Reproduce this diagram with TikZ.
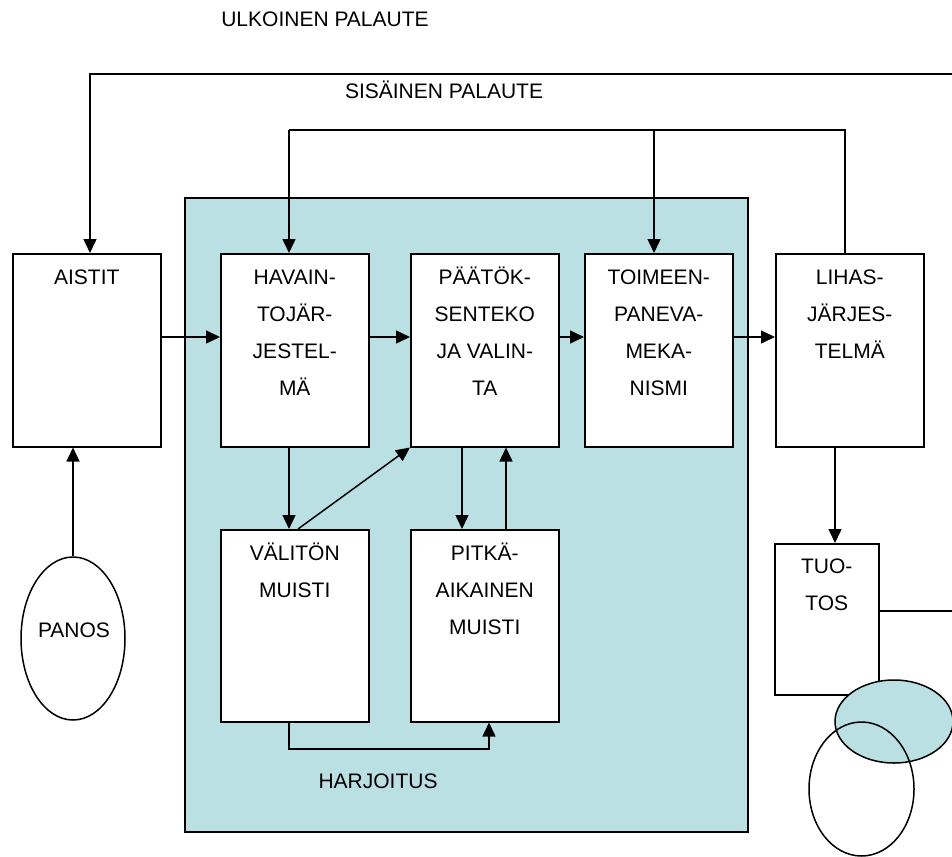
\documentclass[tikz,border=0pt]{standalone}
\usepackage{fontspec}
\setmainfont{Liberation Sans}
\usetikzlibrary{arrows.meta,shapes.geometric}
\definecolor{teal1}{HTML}{BBE0E3}
\tikzset{
  ln/.style={line width=1.5pt},
  arr/.style={ln,-{Triangle[length=14pt,width=13pt]}},
  blk/.style={draw,ln,fill=white,anchor=north west,inner sep=0pt,minimum width=148pt},
  lbl/.style={anchor=north,yshift=-5pt,align=center,inner sep=0pt,font=\fontsize{21}{37}\selectfont},
  txt/.style={anchor=base,inner sep=0pt,font=\fontsize{21}{37}\selectfont},
}
\begin{document}
\begin{tikzpicture}[x=1pt,y=-1pt]
\clip (0,0) rectangle (952,856);
\fill[white] (0,0) rectangle (952,856);
% teal area
\draw[ln,fill=teal1] (185,198) rectangle (748,832);
% boxes
\node[blk,minimum height=193pt,label={[lbl]north:\strut AISTIT}] (aistit) at (12,253) {};
\node[blk,minimum height=193pt,label={[lbl]north:\strut HAVAIN-\\TOJÄR-\\JESTEL-\\MÄ}] (havain) at (220,253) {};
\node[blk,minimum height=193pt,label={[lbl]north:\strut PÄÄTÖK-\\SENTEKO\\JA VALIN-\\TA}] (paatos) at (410,253) {};
\node[blk,minimum height=193pt,label={[lbl]north:\strut TOIMEEN-\\PANEVA-\\MEKA-\\NISMI}] (toim) at (584,253) {};
\node[blk,minimum height=193pt,label={[lbl]north:\strut LIHAS-\\JÄRJES-\\TELMÄ}] (lihas) at (775,253) {};
\node[blk,minimum height=192pt,label={[lbl]north:\strut VÄLITÖN\\MUISTI}] (valiton) at (220,529) {};
\node[blk,minimum height=192pt,label={[lbl]north:\strut PITKÄ-\\AIKAINEN\\MUISTI}] (pitka) at (410,529) {};
\node[blk,minimum width=104pt,minimum height=151pt,label={[lbl,yshift=1pt]north:\strut TUO-\\TOS}] (tuotos) at (774,543) {};
\node[draw,ln,ellipse,minimum width=104pt,minimum height=163pt,inner sep=0pt] (panos) at (73,638.5) {};
\node[txt] (panost) at (74,637) {PANOS};
% texts
\node[txt] (ulk) at (325,27) {ULKOINEN PALAUTE};
\node[txt] (sis) at (444,99) {SISÄINEN PALAUTE};
\node[txt] (harj) at (378,788) {HARJOITUS};
% coordinates
\coordinate (e1) at (878,611);
\coordinate (e2) at (975,611);
\coordinate (e3) at (975,74);
\coordinate (e4) at (90,74);
\coordinate (s1) at (845,130);
\coordinate (s2) at (289,130);
\coordinate (s3) at (654,130);
% external feedback
\draw[arr] (e1) -- (e2) -- (e3) -- (e4) -- (e4 |- aistit.north);
% internal feedback
\draw[ln] (s1 |- lihas.north) -- (s1) -- (s2);
\draw[arr] (s2) -- (s2 |- havain.north);
\draw[arr] (s3) -- (s3 |- toim.north);
% main chain
\draw[arr] (aistit.east |- 0,337) -- (havain.west |- 0,337);
\draw[arr] (havain.east |- 0,337) -- (paatos.west |- 0,337);
\draw[arr] (paatos.east |- 0,337) -- (toim.west |- 0,337);
\draw[arr] (toim.east |- 0,337) -- (lihas.west |- 0,337);
% memory
\draw[arr] (havain.south -| 289,0) -- (valiton.north -| 289,0);
\draw[arr] (valiton.north -| 298,0) -- (paatos.south west);
\draw[arr] (paatos.south -| 462,0) -- (pitka.north -| 462,0);
\draw[arr] (pitka.north -| 506,0) -- (paatos.south -| 506,0);
\draw[arr] (valiton.south -| 289,0) -- (289,749) -- (489,749) -- (pitka.south -| 489,0);
% output
\draw[arr] (lihas.south -| 835,0) -- (tuotos.north -| 835,0);
\draw[arr] (panos.north) -- (aistit.south -| panos.north);
% ellipses bottom right
\draw[ln,fill=teal1] (894,721.5) ellipse [x radius=59, y radius=41.5];
\draw[ln] (861.5,789) ellipse [x radius=52.5, y radius=67];
\end{tikzpicture}
\end{document}
